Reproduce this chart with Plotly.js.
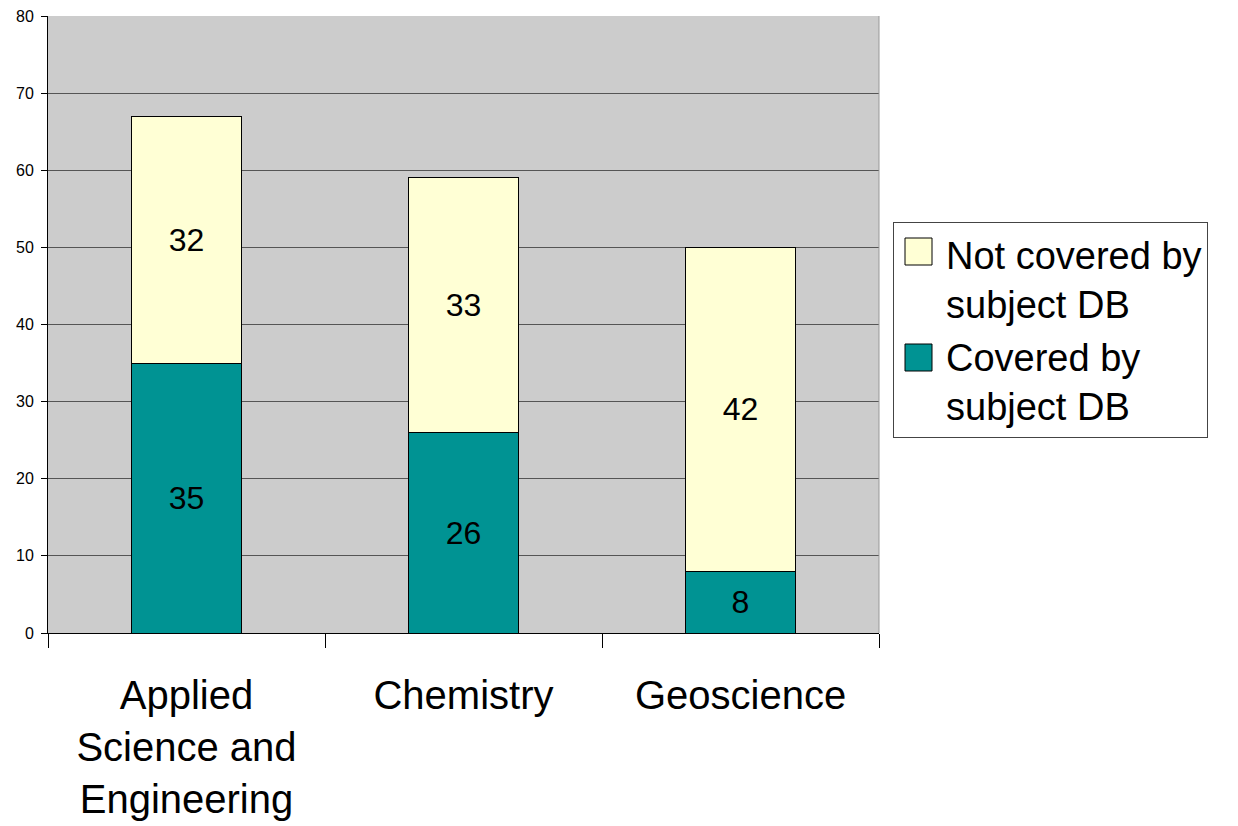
<!DOCTYPE html>
<html>
<head>
<meta charset="utf-8">
<script src="https://cdn.plot.ly/plotly-3.0.1.min.js"></script>
<style>html,body{margin:0;padding:0;background:#fff;}#chart{width:1238px;height:826px;}</style>
</head>
<body>
<div id="chart"></div>
<script>
const categories = ["Applied<br>Science and<br>Engineering", "Chemistry", "Geoscience"];
const covered = [35, 26, 8];
const notCovered = [32, 33, 42];
const seriesNames = ["Covered by<br>subject DB", "Not covered by<br>subject DB"];
const seriesColors = ["#009393", "#ffffd5"];

const FONT = "Liberation Sans, Arial, sans-serif";

const traces = [
  {
    type: "bar", x: categories, y: covered, name: seriesNames[0], showlegend: false,
    marker: {color: seriesColors[0], line: {color: "#000", width: 1}},
    text: covered.map(String), textposition: "inside", insidetextanchor: "middle",
    textfont: {family: FONT, size: 32, color: "#000"}, hoverinfo: "y"
  },
  {
    type: "bar", x: categories, y: notCovered, name: seriesNames[1], showlegend: false,
    marker: {color: seriesColors[1], line: {color: "#000", width: 1}},
    text: notCovered.map(String), textposition: "inside", insidetextanchor: "middle",
    textfont: {family: FONT, size: 32, color: "#000"}, hoverinfo: "y"
  },
  // legend entries (symbols drawn as larger swatches below)
  {type: "scatter", mode: "markers", x: [null], y: [null], name: seriesNames[0],
   marker: {color: "rgba(0,0,0,0)", size: 1}, showlegend: true, legendrank: 2},
  {type: "scatter", mode: "markers", x: [null], y: [null], name: seriesNames[1],
   marker: {color: "rgba(0,0,0,0)", size: 1}, showlegend: true, legendrank: 1}
];

function px2x(p) { return (p - 48) / 831; }
function px2y(p) { return (633 - p) / 617; }

const layout = {
  width: 1238, height: 826,
  margin: {l: 48, r: 359, t: 16, b: 193},
  paper_bgcolor: "#fff", plot_bgcolor: "#cccccc",
  barmode: "stack", bargap: 0.6,
  font: {family: FONT, color: "#000"},
  showlegend: true,
  legend: {
    x: px2x(893), y: px2y(222), xanchor: "left", yanchor: "top",
    bgcolor: "rgba(0,0,0,0)", bordercolor: "#444", borderwidth: 1,
    font: {family: FONT, size: 38, color: "#000"},
    traceorder: "normal", itemwidth: 42, tracegroupgap: 0
  },
  xaxis: {
    type: "category", tickson: "boundaries", ticks: "outside", ticklen: 14,
    tickcolor: "#000", tickwidth: 1, showline: true, linecolor: "#000", linewidth: 1,
    mirror: false, showgrid: false, tickfont: {family: FONT, size: 40, color: "#000"},
    ticklabelstandoff: 27, fixedrange: true
  },
  yaxis: {
    range: [0, 80], dtick: 10, tick0: 0, ticks: "outside", ticklen: 6,
    tickcolor: "#000", showline: true, linecolor: "#000", linewidth: 1,
    showgrid: true, gridcolor: "#555", gridwidth: 1, zeroline: false,
    tickfont: {family: FONT, size: 16, color: "#000"}, ticklabelstandoff: 4,
    fixedrange: true
  },
  shapes: [
    {type: "line", xref: "paper", yref: "paper", x0: 1, x1: 1, y0: 0, y1: 1, line: {color: "#999", width: 1}},
    {type: "rect", xref: "paper", yref: "paper", layer: "above",
     x0: px2x(905), x1: px2x(932), y0: px2y(265), y1: px2y(238),
     fillcolor: seriesColors[1], line: {color: "#000", width: 1}},
    {type: "rect", xref: "paper", yref: "paper", layer: "above",
     x0: px2x(905), x1: px2x(932), y0: px2y(371), y1: px2y(344),
     fillcolor: seriesColors[0], line: {color: "#000", width: 1}}
  ]
};

Plotly.newPlot("chart", traces, layout, {staticPlot: true, displayModeBar: false});
</script>
</body>
</html>
